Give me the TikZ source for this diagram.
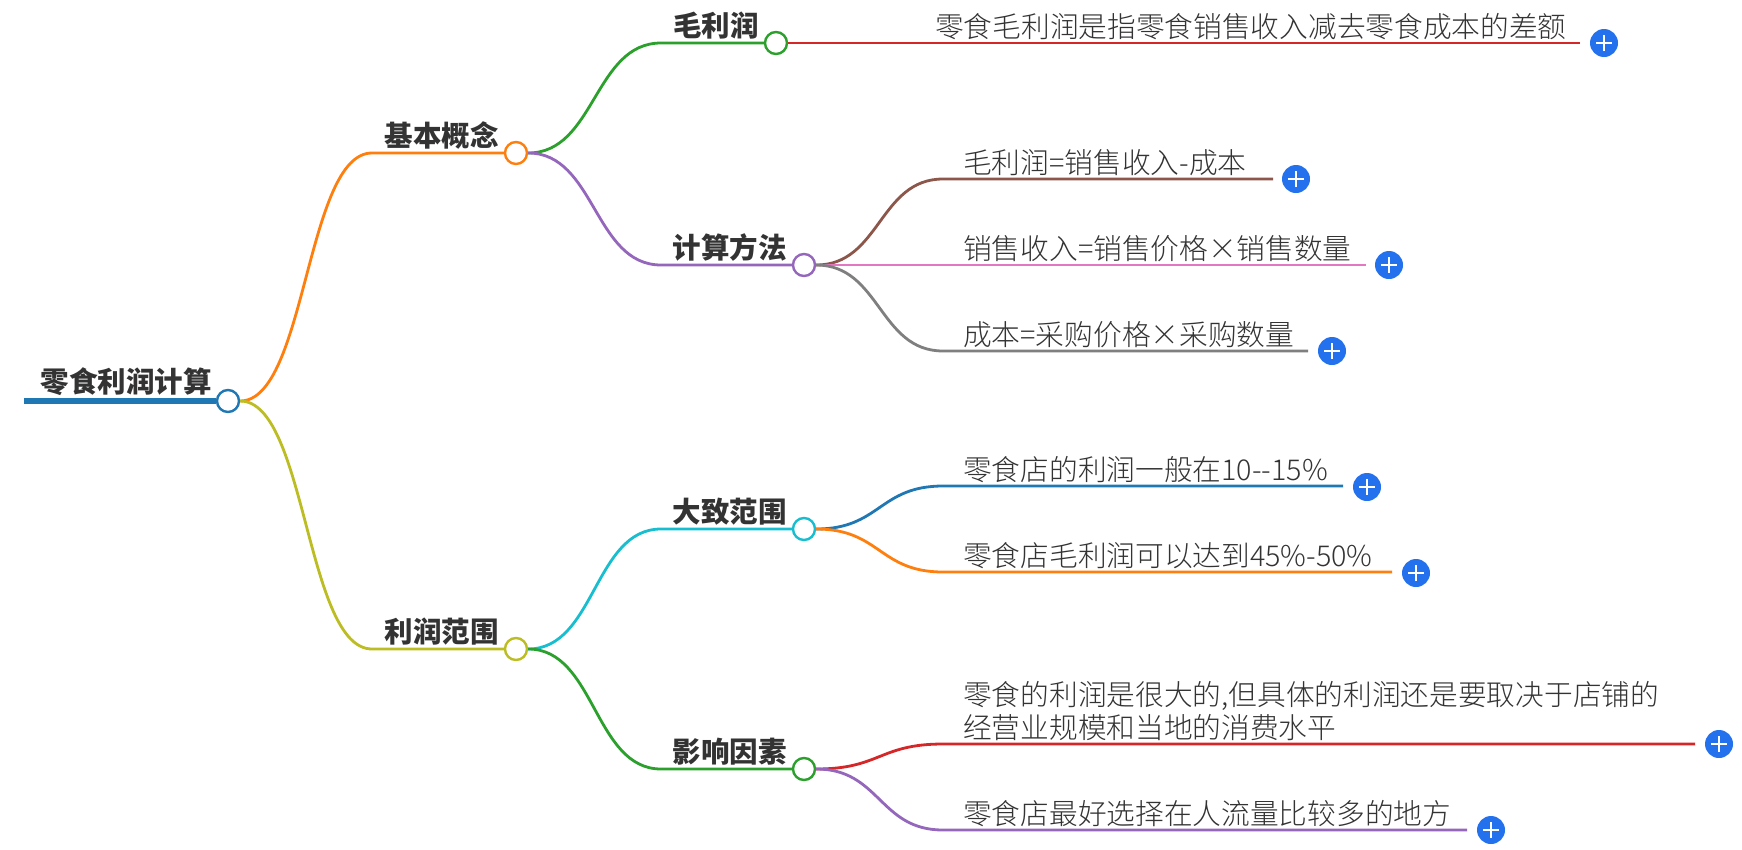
\documentclass[tikz,border=0pt]{standalone}
\usepackage{fontspec}
\newfontfamily\cjk{Noto Sans CJK SC}
\IfFontExistsTF{Noto Sans CJK SC Light}
  {\newfontfamily\cjklight{Noto Sans CJK SC Light}}
  {\newfontfamily\cjklight{Noto Sans CJK SC}}
\usetikzlibrary{calc}

\definecolor{cBlue}{HTML}{1F77B4}
\definecolor{cOrange}{HTML}{FF7F0E}
\definecolor{cGreen}{HTML}{2CA02C}
\definecolor{cRed}{HTML}{D62728}
\definecolor{cPurple}{HTML}{9467BD}
\definecolor{cBrown}{HTML}{8C564B}
\definecolor{cPink}{HTML}{E377C2}
\definecolor{cGray}{HTML}{7F7F7F}
\definecolor{cOlive}{HTML}{BCBD22}
\definecolor{cCyan}{HTML}{17BECF}
\definecolor{plusblue}{HTML}{2471EE}
\definecolor{txtdark}{HTML}{333333}
\definecolor{txtleaf}{HTML}{333333}

\tikzset{
  topic/.style={circle,draw,fill=white,line width=2.4pt,minimum size=22pt,inner sep=0pt},
  branch/.style={line width=2.8pt},
  title/.style={anchor=base east,inner sep=0pt,text=txtdark,
    font=\cjk\bfseries\fontsize{28.5}{33}\selectfont},
  leaf/.style={anchor=base west,inner sep=0pt,text=txtleaf,align=left,
    font=\cjklight\fontsize{28.7}{33}\selectfont},
  plus/.style={circle,fill=plusblue,minimum size=28pt,inner sep=0pt,
    path picture={
      \draw[white,line width=2.6pt]
        ([xshift=-8pt]path picture bounding box.center) -- ([xshift=8pt]path picture bounding box.center)
        ([yshift=-8pt]path picture bounding box.center) -- ([yshift=8pt]path picture bounding box.center);
    }}
}

\begin{document}
\begin{tikzpicture}[x=1pt,y=-1pt]
	\useasboundingbox[fill=white] (0,0) rectangle (1742,849);

	% root
	\node[topic,draw=cBlue] (root) at (228,401) {};
	\coordinate (rootstart) at (24,401);
	\draw[cBlue,line width=6pt] (rootstart) -- (root.west);
	\node[title] (rootlbl) at ([xshift=-4pt,yshift=9pt]root.west) {零食利润计算};

	% level 1
	\node[topic,draw=cOrange] (jbgn) at (516,153) {};
	\node[topic,draw=cOlive] (lrfw) at (516,649) {};
	\coordinate (jbgnh) at (372,153);
	\coordinate (lrfwh) at (372,649);
	\draw[branch,cOrange] (root.east) .. controls +(66,0) and +(-66,0) .. (jbgnh) -- (jbgn.west);
	\draw[branch,cOlive] (root.east) .. controls +(66,0) and +(-66,0) .. (lrfwh) -- (lrfw.west);
	\node[title] (jbgnlbl) at ([xshift=-5pt,yshift=7pt]jbgn.west) {基本概念};
	\node[title] (lrfwlbl) at ([xshift=-5pt,yshift=7pt]lrfw.west) {利润范围};

	% level 2
	\node[topic,draw=cGreen] (mlr) at (776,43) {};
	\node[topic,draw=cPurple] (jsff) at (804,265) {};
	\node[topic,draw=cCyan] (dzfw) at (804,529) {};
	\node[topic,draw=cGreen] (yxys) at (804,769) {};
	\coordinate (mlrh) at (661,43);
	\coordinate (jsffh) at (661,265);
	\coordinate (dzfwh) at (661,529);
	\coordinate (yxysh) at (661,769);
	\draw[branch,cGreen] (jbgn.east) .. controls +(67,0) and +(-67,0) .. (mlrh) -- (mlr.west);
	\draw[branch,cPurple] (jbgn.east) .. controls +(67,0) and +(-67,0) .. (jsffh) -- (jsff.west);
	\draw[branch,cCyan] (lrfw.east) .. controls +(67,0) and +(-67,0) .. (dzfwh) -- (dzfw.west);
	\draw[branch,cGreen] (lrfw.east) .. controls +(67,0) and +(-67,0) .. (yxysh) -- (yxys.west);
	\node[title] (mlrlbl) at ([xshift=-5pt,yshift=7pt]mlr.west) {毛利润};
	\node[title] (jsfflbl) at ([xshift=-5pt,yshift=7pt]jsff.west) {计算方法};
	\node[title] (dzfwlbl) at ([xshift=-5pt,yshift=7pt]dzfw.west) {大致范围};
	\node[title] (yxyslbl) at ([xshift=-5pt,yshift=7pt]yxys.west) {影响因素};

	% leaves
	\coordinate (l1e) at (1580,43);
	\node[plus] (p1) at (1604,43) {};
	\draw[branch,cRed] (mlr.east) -- (l1e);
	\node[leaf] (l1) at (935,37) {零食毛利润是指零食销售收入减去零食成本的差额};

	\coordinate (l2h) at (943,179);
	\coordinate (l2e) at (1273,179);
	\node[plus] (p2) at (1296,179) {};
	\draw[branch,cBrown] (jsff.east) .. controls +(64,0) and +(-64,0) .. (l2h) -- (l2e);
	\node[leaf] (l2) at (963,173) {毛利润=销售收入-成本};

	\coordinate (l3e) at (1366,265);
	\node[plus] (p3) at (1389,265) {};
	\draw[branch,cPink] (jsff.east) -- (l3e);
	\node[leaf] (l3) at (963,259) {销售收入=销售价格×销售数量};

	\coordinate (l4h) at (943,351);
	\coordinate (l4e) at (1308,351);
	\node[plus] (p4) at (1332,351) {};
	\draw[branch,cGray] (jsff.east) .. controls +(64,0) and +(-64,0) .. (l4h) -- (l4e);
	\node[leaf] (l4) at (963,345) {成本=采购价格×采购数量};

	\coordinate (l5h) at (943,486);
	\coordinate (l5e) at (1343,486);
	\node[plus] (p5) at (1367,487) {};
	\draw[branch,cBlue] (dzfw.east) .. controls +(64,0) and +(-64,0) .. (l5h) -- (l5e);
	\node[leaf] (l5) at (963,480) {零食店的利润一般在10--15\%};

	\coordinate (l6h) at (943,572);
	\coordinate (l6e) at (1392,572);
	\node[plus] (p6) at (1416,573) {};
	\draw[branch,cOrange] (dzfw.east) .. controls +(64,0) and +(-64,0) .. (l6h) -- (l6e);
	\node[leaf] (l6) at (963,566) {零食店毛利润可以达到45\%-50\%};

	\coordinate (l7h) at (943,744);
	\coordinate (l7e) at (1695,744);
	\node[plus] (p7) at (1719,744) {};
	\draw[branch,cRed] (yxys.east) .. controls +(64,0) and +(-64,0) .. (l7h) -- (l7e);
	\node[leaf,anchor=south west] (l7) at (963,741) {零食的利润是很大的,但具体的利润还是要取决于店铺的\\经营业规模和当地的消费水平};

	\coordinate (l8h) at (943,830);
	\coordinate (l8e) at (1467,830);
	\node[plus] (p8) at (1491,830) {};
	\draw[branch,cPurple] (yxys.east) .. controls +(64,0) and +(-64,0) .. (l8h) -- (l8e);
	\node[leaf] (l8) at (963,824) {零食店最好选择在人流量比较多的地方};
\end{tikzpicture}
\end{document}
